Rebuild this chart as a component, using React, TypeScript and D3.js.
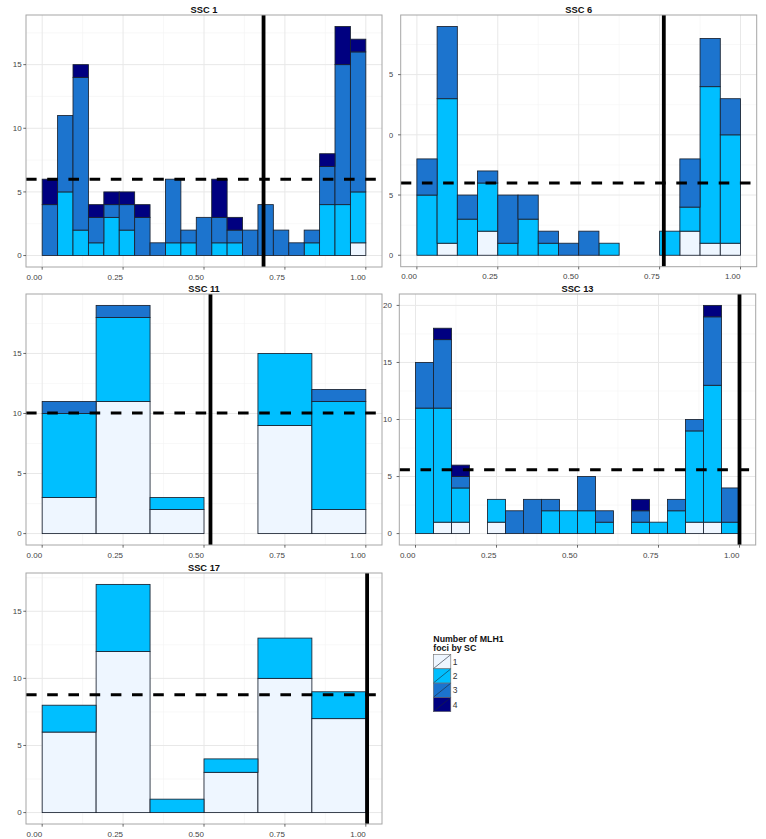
import React from "react";
import * as d3 from "d3";

// ---------- data ----------
const fociLevels = ["1", "2", "3", "4"];
const fociColors = ["#EEF6FF", "#00BFFF", "#1C74CE", "#000080"];
const xTickValues = [0, 0.25, 0.5, 0.75, 1];
const legendTitle = ["Number of MLH1", "foci by SC"];

const panelTitles = ["SSC 1", "SSC 6", "SSC 11", "SSC 13", "SSC 17"];

// counts per bin for each number of foci (1..4), bins span 0..1 evenly
const ssc1Foci1 = [0, 0, 0, 0, 0, 0, 0, 0, 0, 0, 0, 0, 0, 0, 0, 0, 0, 0, 0, 0, 1];
const ssc1Foci2 = [0, 5, 2, 1, 3, 2, 0, 0, 1, 1, 0, 1, 1, 0, 0, 0, 0, 1, 4, 4, 4];
const ssc1Foci3 = [4, 6, 12, 2, 1, 2, 3, 1, 5, 1, 3, 2, 1, 2, 4, 2, 1, 1, 3, 11, 11];
const ssc1Foci4 = [2, 0, 1, 1, 1, 1, 1, 0, 0, 0, 0, 3, 1, 0, 0, 0, 0, 0, 1, 3, 1];

const ssc6Foci1 = [0, 1, 0, 2, 0, 0, 0, 0, 0, 0, 0, 0, 0, 2, 1, 1];
const ssc6Foci2 = [5, 12, 3, 4, 1, 3, 1, 0, 0, 1, 0, 0, 2, 2, 13, 9];
const ssc6Foci3 = [3, 6, 2, 1, 4, 2, 1, 1, 2, 0, 0, 0, 0, 4, 4, 3];
const ssc6Foci4 = [0, 0, 0, 0, 0, 0, 0, 0, 0, 0, 0, 0, 0, 0, 0, 0];

const ssc11Foci1 = [3, 11, 2, 0, 9, 2];
const ssc11Foci2 = [7, 7, 1, 0, 6, 9];
const ssc11Foci3 = [1, 1, 0, 0, 0, 1];
const ssc11Foci4 = [0, 0, 0, 0, 0, 0];

const ssc13Foci1 = [0, 1, 1, 0, 1, 0, 0, 0, 0, 0, 0, 0, 0, 0, 0, 1, 1, 0];
const ssc13Foci2 = [11, 10, 3, 0, 2, 0, 0, 2, 2, 2, 1, 0, 1, 1, 2, 8, 12, 1];
const ssc13Foci3 = [4, 6, 1, 0, 0, 2, 3, 1, 0, 3, 1, 0, 1, 0, 1, 1, 6, 3];
const ssc13Foci4 = [0, 1, 1, 0, 0, 0, 0, 0, 0, 0, 0, 0, 1, 0, 0, 0, 1, 0];

const ssc17Foci1 = [6, 12, 0, 3, 10, 7];
const ssc17Foci2 = [2, 5, 1, 1, 3, 2];
const ssc17Foci3 = [0, 0, 0, 0, 0, 0];
const ssc17Foci4 = [0, 0, 0, 0, 0, 0];

// reference lines: vertical (solid) and horizontal (dashed)
const vlineValues = [0.684, 0.763, 0.52, 1.0, 1.004];
const hlineValues = [6, 6, 10.05, 5.6, 8.78];

const panelCounts = [
  [ssc1Foci1, ssc1Foci2, ssc1Foci3, ssc1Foci4],
  [ssc6Foci1, ssc6Foci2, ssc6Foci3, ssc6Foci4],
  [ssc11Foci1, ssc11Foci2, ssc11Foci3, ssc11Foci4],
  [ssc13Foci1, ssc13Foci2, ssc13Foci3, ssc13Foci4],
  [ssc17Foci1, ssc17Foci2, ssc17Foci3, ssc17Foci4],
];

// ---------- layout ----------
const W = 766;
const H = 839;
const panelBoxes = [
  { left: 26, right: 382, top: 15, bottom: 267, clipLeft: 0, labelGap: 4.3 },
  { left: 400.7, right: 756.7, top: 15, bottom: 266.7, clipLeft: 389.2, labelGap: 7.4 },
  { left: 26, right: 382, top: 294, bottom: 545, clipLeft: 0, labelGap: 4.3 },
  { left: 399.3, right: 755.7, top: 294, bottom: 545, clipLeft: 0, labelGap: 7.4 },
  { left: 26, right: 382, top: 573, bottom: 824, clipLeft: 0, labelGap: 4.3 },
];
const FONT = "'Liberation Sans', Arial, sans-serif";
const TICK_COLOR = "#444";

function Panel({ idx }: { idx: number }) {
  const box = panelBoxes[idx];
  const counts = panelCounts[idx];
  const nBins = counts[0].length;
  const rows = d3.range(nBins).map((i) => {
    const r: any = { bin: i };
    fociLevels.forEach((lv, k) => (r[lv] = counts[k][i]));
    return r;
  });
  const series = d3.stack().keys(fociLevels)(rows);
  const maxTotal = d3.max(rows, (r: any) => fociLevels.reduce((s, lv) => s + r[lv], 0)) as number;

  const x = d3.scaleLinear().domain([-0.05, 1.05]).range([box.left, box.right]);
  const y = d3
    .scaleLinear()
    .domain([-0.05 * maxTotal, 1.05 * maxTotal])
    .range([box.bottom, box.top]);

  const yTicks = d3.range(0, maxTotal + 0.001, 5);
  const yMinor = d3.range(2.5, 1.05 * maxTotal, 5);
  const xMinor = [0.125, 0.375, 0.625, 0.875];
  const clipId = `clip-${idx}`;
  const plotClipId = `plotclip-${idx}`;

  return (
    <g clipPath={box.clipLeft ? `url(#${clipId})` : undefined}>
      <defs>
        <clipPath id={clipId}>
          <rect x={box.clipLeft} y={0} width={W} height={H} />
        </clipPath>
        <clipPath id={plotClipId}>
          <rect x={box.left} y={box.top} width={box.right - box.left} height={box.bottom - box.top} />
        </clipPath>
      </defs>
      <rect x={box.left} y={box.top} width={box.right - box.left} height={box.bottom - box.top} fill="#fff" />
      {/* minor grid */}
      {yMinor.map((v) => (
        <line key={"ym" + v} x1={box.left} x2={box.right} y1={y(v)} y2={y(v)} stroke="#f4f4f4" strokeWidth={0.6} />
      ))}
      {xMinor.map((v) => (
        <line key={"xm" + v} x1={x(v)} x2={x(v)} y1={box.top} y2={box.bottom} stroke="#f4f4f4" strokeWidth={0.6} />
      ))}
      {/* major grid */}
      {yTicks.map((v) => (
        <line key={"yg" + v} x1={box.left} x2={box.right} y1={y(v)} y2={y(v)} stroke="#e8e8e8" strokeWidth={1} />
      ))}
      {xTickValues.map((v) => (
        <line key={"xg" + v} x1={x(v)} x2={x(v)} y1={box.top} y2={box.bottom} stroke="#e8e8e8" strokeWidth={1} />
      ))}
      {/* bars */}
      <g clipPath={`url(#${plotClipId})`}>
        {series.map((s, k) =>
          s.map((d, i) =>
            d[1] - d[0] > 0 ? (
              <rect
                key={`b${k}-${i}`}
                x={x(i / nBins)}
                width={x((i + 1) / nBins) - x(i / nBins)}
                y={y(d[1])}
                height={y(d[0]) - y(d[1])}
                fill={fociColors[k]}
                stroke="#1a2230"
                strokeWidth={0.85}
              />
            ) : null
          )
        )}
        <line
          x1={x(vlineValues[idx])}
          x2={x(vlineValues[idx])}
          y1={box.top}
          y2={box.bottom}
          stroke="#000"
          strokeWidth={3.8}
        />
        <line
          x1={box.left}
          x2={box.right}
          y1={y(hlineValues[idx])}
          y2={y(hlineValues[idx])}
          stroke="#000"
          strokeWidth={3}
          strokeDasharray="10.6 10.6"
        />
      </g>
      {/* border */}
      <rect
        x={box.left}
        y={box.top}
        width={box.right - box.left}
        height={box.bottom - box.top}
        fill="none"
        stroke="#a6a6a6"
        strokeWidth={1}
      />
      {/* title */}
      <text
        x={(box.left + box.right) / 2}
        y={box.top - 2.5}
        textAnchor="middle"
        fontFamily={FONT}
        fontWeight="bold"
        fontSize={9.3}
        fill="#111"
      >
        {panelTitles[idx]}
      </text>
      {/* y axis */}
      {yTicks.map((v) => (
        <g key={"yt" + v}>
          <line x1={box.left - 2.7} x2={box.left} y1={y(v)} y2={y(v)} stroke={TICK_COLOR} strokeWidth={0.8} />
          <text
            x={box.left - box.labelGap}
            y={y(v)}
            dy="0.35em"
            textAnchor="end"
            fontFamily={FONT}
            fontSize={8}
            fill={TICK_COLOR}
          >
            {String(v)}
          </text>
        </g>
      ))}
      {/* x axis */}
      {xTickValues.map((v) => (
        <g key={"xt" + v}>
          <line x1={x(v)} x2={x(v)} y1={box.bottom} y2={box.bottom + 2.7} stroke={TICK_COLOR} strokeWidth={0.8} />
          <text
            x={x(v)}
            y={box.bottom + 12.5}
            textAnchor="end"
            fontFamily={FONT}
            fontSize={8}
            fill={TICK_COLOR}
          >
            {d3.format(".2f")(v)}
          </text>
        </g>
      ))}
    </g>
  );
}

function Legend() {
  const lx = 433.3;
  const ly = 654.5;
  const kw = 17.5;
  const kh = 14.3;
  return (
    <g>
      {legendTitle.map((t, i) => (
        <text
          key={t}
          x={lx}
          y={641.5 + i * 9.2}
          fontFamily={FONT}
          fontWeight="bold"
          fontSize={8.8}
          fill="#111"
        >
          {t}
        </text>
      ))}
      {fociLevels.map((lv, i) => (
        <g key={lv}>
          <rect
            x={lx}
            y={ly + i * kh}
            width={kw}
            height={kh}
            fill={fociColors[i]}
            stroke="#6b6b6b"
            strokeWidth={0.6}
          />
          <line
            x1={lx + 0.5}
            y1={ly + (i + 1) * kh - 0.5}
            x2={lx + kw - 0.5}
            y2={ly + i * kh + 0.5}
            stroke="#1e2633"
            strokeWidth={0.6}
          />
          <text
            x={lx + kw + 2}
            y={ly + i * kh + kh / 2}
            dy="0.35em"
            fontFamily={FONT}
            fontSize={8.5}
            fill="#333"
          >
            {lv}
          </text>
        </g>
      ))}
    </g>
  );
}

export default function App() {
  return (
    <svg
      width={W}
      height={H}
      viewBox={`0 0 ${W} ${H}`}
      style={{ position: "absolute", left: 0, top: 0, background: "#fff" }}
    >
      <rect x={0} y={0} width={W} height={H} fill="#fff" />
      {panelTitles.map((_, i) => (
        <Panel key={i} idx={i} />
      ))}
      <Legend />
    </svg>
  );
}
